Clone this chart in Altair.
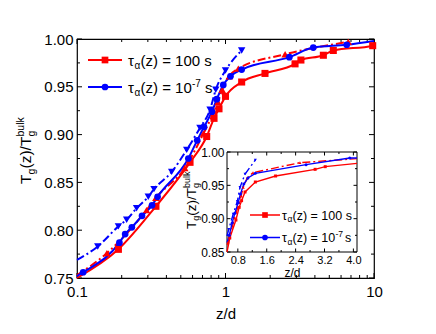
import altair as alt
import pandas as pd

# ---------------- data ----------------
# red solid line, squares : tau_alpha(z) = 100 s
RS_X = [0.19, 0.34, 0.577, 0.747, 0.837, 0.904, 1.0, 1.285, 1.845, 2.94, 3.22, 4.56, 5.32, 9.8]
RS_Y = [0.780, 0.825, 0.871, 0.898, 0.917, 0.927, 0.940, 0.955, 0.964, 0.974, 0.978, 0.983, 0.988, 0.993]
# blue solid line, circles : tau_alpha(z) = 1e-7 s
BC_X = [0.11, 0.193, 0.211, 0.234, 0.274, 0.32, 0.349, 0.562, 0.645, 0.716, 0.81, 0.873, 0.966, 1.08, 1.285, 2.69, 3.9, 6.55]
BC_Y = [0.756, 0.787, 0.796, 0.803, 0.815, 0.826, 0.835, 0.875, 0.894, 0.908, 0.924, 0.937, 0.952, 0.961, 0.968, 0.981, 0.991, 0.994]
# red dash-dot line, up triangles
RT_X = [0.159, 0.294, 0.34, 0.532, 0.71, 0.837, 0.89, 0.95, 1.06, 1.22, 2.52, 6.71]
RT_Y = [0.776, 0.821, 0.834, 0.865, 0.901, 0.924, 0.934, 0.947, 0.961, 0.969, 0.984, 0.997]
# blue dash-dot line, down triangles
BT_X = [0.138, 0.19, 0.216, 0.252, 0.302, 0.33, 0.434, 0.548, 0.673, 0.787, 0.86, 1.0, 1.285]
BT_Y = [0.783, 0.804, 0.811, 0.823, 0.835, 0.843, 0.861, 0.884, 0.907, 0.926, 0.947, 0.967, 0.988]

# where the curves start / stop beyond the markers (main panel)
RS_START, RS_END = (0.1, 0.750), (10.0, 0.994)
BC_START, BC_END = (0.1, 0.752), (10.0, 0.998)
RT_START = (0.1, 0.753)
BT_START = (0.1, 0.769)

# inset view of the same data, plus where curves enter / leave it
INSET_X_DOMAIN = [0.5, 4.1]
INSET_Y_DOMAIN = [0.85, 1.0]
RS_IN, RS_OUT = (0.5, 0.850), (4.1, 0.983)
BC_IN, BC_OUT = (0.5, 0.864), (4.1, 0.991)
RT_IN, RT_OUT = (0.5, 0.861), (4.1, 0.990)
BT_IN = (0.5, 0.874)

# tick values
MAIN_X_MAJOR = [0.1, 1, 10]
MAIN_X_MINOR = [0.2, 0.3, 0.4, 0.5, 0.6, 0.7, 0.8, 0.9, 2, 3, 4, 5, 6, 7, 8, 9]
MAIN_Y_MAJOR = [0.75, 0.80, 0.85, 0.90, 0.95, 1.00]
MAIN_Y_MINOR = [0.775, 0.825, 0.875, 0.925, 0.975]
INSET_X_MAJOR = [0.8, 1.6, 2.4, 3.2, 4.0]
INSET_X_MINOR = [1.2, 2.0, 2.8, 3.6]
INSET_Y_MAJOR = [0.85, 0.90, 0.95, 1.00]
INSET_Y_MINOR = [0.875, 0.925, 0.975]

LEG1 = ["τ", "α", "(z) = 100 s"]
LEG2 = ["τ", "α", "(z) = 10", "-7", "s"]

# ---------------- layout / style ----------------
FONT = "Liberation Sans"
RED, BLUE = "#ff0000", "#0000ff"
W, H = 297, 239
IL, IR, IT, IB = 150, 280, 113, 213   # inset box in plot pixels
DASHDOT = [8, 3, 2, 3]

main_xs = alt.Scale(type="log", domain=[0.1, 10])
main_ys = alt.Scale(domain=[0.75, 1.0])
main_xa = alt.Axis(values=MAIN_X_MAJOR, format="~g", ticks=False, domain=False, grid=False,
                   labelFontSize=15, labelPadding=6, title="z/d", titleFontSize=15,
                   titlePadding=7, labelFlush=False)
main_ya = alt.Axis(values=MAIN_Y_MAJOR, format=".2f", ticks=False, domain=False, grid=False,
                   labelFontSize=15, labelPadding=4, title=None)

in_xs = alt.Scale(domain=INSET_X_DOMAIN, range=[IL, IR])
in_ys = alt.Scale(domain=INSET_Y_DOMAIN, range=[IB, IT])
in_xa = alt.Axis(values=INSET_X_MAJOR, format=".1f", ticks=False, domain=False, grid=False,
                 orient="bottom", offset=-(H - IB), labelFontSize=11, labelPadding=2,
                 title="z/d", titleFontSize=12, titlePadding=2, labelFlush=False)
in_ya = alt.Axis(values=INSET_Y_MAJOR, format=".2f", ticks=False, domain=False, grid=False,
                 orient="left", offset=-IL, labelFontSize=12, labelPadding=3, title=None,
                 labelFlush=False)


def df_xy(xs, ys):
    return pd.DataFrame({"x": list(xs), "y": list(ys)})


def enc(ch, xs, ys, xa, ya):
    return ch.encode(x=alt.X("x:Q", scale=xs, axis=xa), y=alt.Y("y:Q", scale=ys, axis=ya))


def line(df, color, dash, width, interp, xs, ys, xa, ya):
    kw = dict(color=color, strokeWidth=width, interpolate=interp)
    if dash:
        kw["strokeDash"] = dash
    return enc(alt.Chart(df).mark_line(**kw), xs, ys, xa, ya)


def pts(df, color, shape, size, xs, ys, xa, ya):
    return enc(alt.Chart(df).mark_point(shape=shape, filled=True, size=size, color=color, opacity=1),
               xs, ys, xa, ya)


ONE = pd.DataFrame({"k": [0]})


def txt(s, x, y, size, angle=0):
    return alt.Chart(ONE).mark_text(text=s, font=FONT, fontSize=size, align="left",
                                    baseline="alphabetic", angle=angle, color="black").encode(
        x=alt.value(x), y=alt.value(y))


def xtick_rules(vals, length, xs, xa, ybot, ytop):
    c = alt.Chart(pd.DataFrame({"x": vals})).mark_rule(color="black", strokeWidth=1)
    return [c.encode(x=alt.X("x:Q", scale=xs, axis=xa), y=alt.value(ybot), y2=alt.value(ybot - length)),
            c.encode(x=alt.X("x:Q", scale=xs, axis=xa), y=alt.value(ytop), y2=alt.value(ytop + length))]


def ytick_rules(vals, length, ys, ya, xl, xr):
    c = alt.Chart(pd.DataFrame({"y": vals})).mark_rule(color="black", strokeWidth=1)
    return [c.encode(y=alt.Y("y:Q", scale=ys, axis=ya), x=alt.value(xl), x2=alt.value(xl + length)),
            c.encode(y=alt.Y("y:Q", scale=ys, axis=ya), x=alt.value(xr), x2=alt.value(xr - length))]


SERIES = [
    # xs, ys, start, end, in, out, color, dash, shape, size
    (RS_X, RS_Y, RS_START, RS_END, RS_IN, RS_OUT, RED, None, "square", 50),
    (RT_X, RT_Y, RT_START, None, RT_IN, RT_OUT, RED, DASHDOT, "triangle-up", 55),
    (BC_X, BC_Y, BC_START, BC_END, BC_IN, BC_OUT, BLUE, None, "circle", 45),
    (BT_X, BT_Y, BT_START, None, BT_IN, None, BLUE, DASHDOT, "triangle-down", 55),
]

# ---------------- main panel ----------------
main_layers = []
main_layers += xtick_rules(MAIN_X_MAJOR, 5, main_xs, main_xa, H, 0)
main_layers += xtick_rules(MAIN_X_MINOR, 3, main_xs, main_xa, H, 0)
main_layers += ytick_rules(MAIN_Y_MAJOR, 5, main_ys, main_ya, 0, W)
main_layers += ytick_rules(MAIN_Y_MINOR, 3, main_ys, main_ya, 0, W)

for xs_, ys_, st, en, _i, _o, col, dash, shape, size in SERIES:
    lx = [st[0]] + xs_ + ([en[0]] if en else [])
    ly = [st[1]] + ys_ + ([en[1]] if en else [])
    main_layers.append(line(df_xy(lx, ly), col, dash, 2, "monotone", main_xs, main_ys, main_xa, main_ya))
for xs_, ys_, st, en, _i, _o, col, dash, shape, size in SERIES:
    main_layers.append(pts(df_xy(xs_, ys_), col, shape, size, main_xs, main_ys, main_xa, main_ya))

# main legend
for yc, col, shape in [(21, RED, "square"), (48, BLUE, "circle")]:
    main_layers.append(alt.Chart(ONE).mark_rule(color=col, strokeWidth=2).encode(
        x=alt.value(11), x2=alt.value(45), y=alt.value(yc)))
    main_layers.append(alt.Chart(ONE).mark_point(shape=shape, filled=True, size=45, color=col, opacity=1).encode(
        x=alt.value(28), y=alt.value(yc)))
main_layers += [txt(LEG1[0], 51, 26.5, 15), txt(LEG1[1], 57.5, 29.5, 10), txt(LEG1[2], 63.5, 26.5, 15)]
main_layers += [txt(LEG2[0], 51, 53.5, 15), txt(LEG2[1], 57.5, 56.5, 10), txt(LEG2[2], 63.5, 53.5, 15),
                txt(LEG2[3], 115, 47.5, 10), txt(LEG2[4], 128, 53.5, 15)]

# main y title  T_g(z)/T_g^bulk  (rotated)
bx, y0, fs, ss = -46, 145, 15.5, 10.5
main_layers += [txt("T", bx, y0, fs, 270),
                txt("g", bx + 3.5, y0 - 9.5, ss, 270),
                txt("(z)/T", bx, y0 - 15.5, fs, 270),
                txt("g", bx + 3.5, y0 - 47.5, ss, 270),
                txt("bulk", bx - 7, y0 - 47.5, ss, 270)]

# inset y title
bx2, y02, fs2, ss2 = 119, 190, 13.5, 9
main_layers += [txt("T", bx2, y02, fs2, 270),
                txt("g", bx2 + 3, y02 - 8.3, ss2, 270),
                txt("(z)/T", bx2, y02 - 13.3, fs2, 270),
                txt("g", bx2 + 3, y02 - 41, ss2, 270),
                txt("bulk", bx2 - 6, y02 - 41, ss2, 270)]

main = alt.layer(*main_layers)

# ---------------- inset ----------------
inset_layers = []
box = pd.DataFrame({"x": [INSET_X_DOMAIN[0]], "x2": [INSET_X_DOMAIN[1]],
                    "y": [INSET_Y_DOMAIN[0]], "y2": [INSET_Y_DOMAIN[1]]})
inset_layers.append(alt.Chart(box).mark_rect(fill="white", stroke="black", strokeWidth=1).encode(
    x=alt.X("x:Q", scale=in_xs, axis=in_xa), x2="x2:Q",
    y=alt.Y("y:Q", scale=in_ys, axis=in_ya), y2="y2:Q"))
inset_layers += xtick_rules(INSET_X_MAJOR, 3.5, in_xs, in_xa, IB, IT)
inset_layers += xtick_rules(INSET_X_MINOR, 2, in_xs, in_xa, IB, IT)
inset_layers += ytick_rules(INSET_Y_MAJOR, 3.5, in_ys, in_ya, IL, IR)
inset_layers += ytick_rules(INSET_Y_MINOR, 2, in_ys, in_ya, IL, IR)


def in_range(xs_, ys_):
    keep = [(a, b) for a, b in zip(xs_, ys_)
            if INSET_X_DOMAIN[0] <= a <= INSET_X_DOMAIN[1] and INSET_Y_DOMAIN[0] <= b <= INSET_Y_DOMAIN[1]]
    return [k[0] for k in keep], [k[1] for k in keep]


for xs_, ys_, st, en, pin, pout, col, dash, shape, size in SERIES:
    fx, fy = in_range(xs_, ys_)
    lx = [pin[0]] + fx + ([pout[0]] if pout else [])
    ly = [pin[1]] + fy + ([pout[1]] if pout else [])
    inset_layers.append(line(df_xy(lx, ly), col, dash, 1.4, "linear", in_xs, in_ys, in_xa, in_ya))
for xs_, ys_, st, en, pin, pout, col, dash, shape, size in SERIES:
    fx, fy = in_range(xs_, ys_)
    inset_layers.append(pts(df_xy(fx, fy), col, shape, 9, in_xs, in_ys, in_xa, in_ya))

# inset legend
for yc, col, shape in [(176, RED, "square"), (198.5, BLUE, "circle")]:
    inset_layers.append(alt.Chart(ONE).mark_rule(color=col, strokeWidth=1.5).encode(
        x=alt.value(173), x2=alt.value(203), y=alt.value(yc)))
    inset_layers.append(alt.Chart(ONE).mark_point(shape=shape, filled=True, size=32, color=col, opacity=1).encode(
        x=alt.value(188), y=alt.value(yc)))
inset_layers += [txt(LEG1[0], 205, 180.5, 12.5), txt(LEG1[1], 210.5, 183, 8.5), txt(LEG1[2], 215.5, 180.5, 12.5)]
inset_layers += [txt(LEG2[0], 205, 203, 12.5), txt(LEG2[1], 210.5, 205.5, 8.5), txt(LEG2[2], 215.5, 203, 12.5),
                 txt(LEG2[3], 258.5, 198, 8.5), txt(LEG2[4], 268, 203, 12.5)]

inset = alt.layer(*inset_layers)

chart = alt.layer(main, inset).resolve_scale(x="independent", y="independent").properties(
    width=W, height=H,
    autosize=alt.AutoSizeParams(type="none"),
    padding={"left": 69, "top": 31, "right": 50, "bottom": 55},
).configure_view(stroke="black", strokeWidth=1.2).configure_axis(
    labelFont=FONT, titleFont=FONT, labelColor="black", titleColor="black", titleFontWeight="normal"
)

chart.save("out.html", embed_options={"renderer": "svg", "actions": False})
